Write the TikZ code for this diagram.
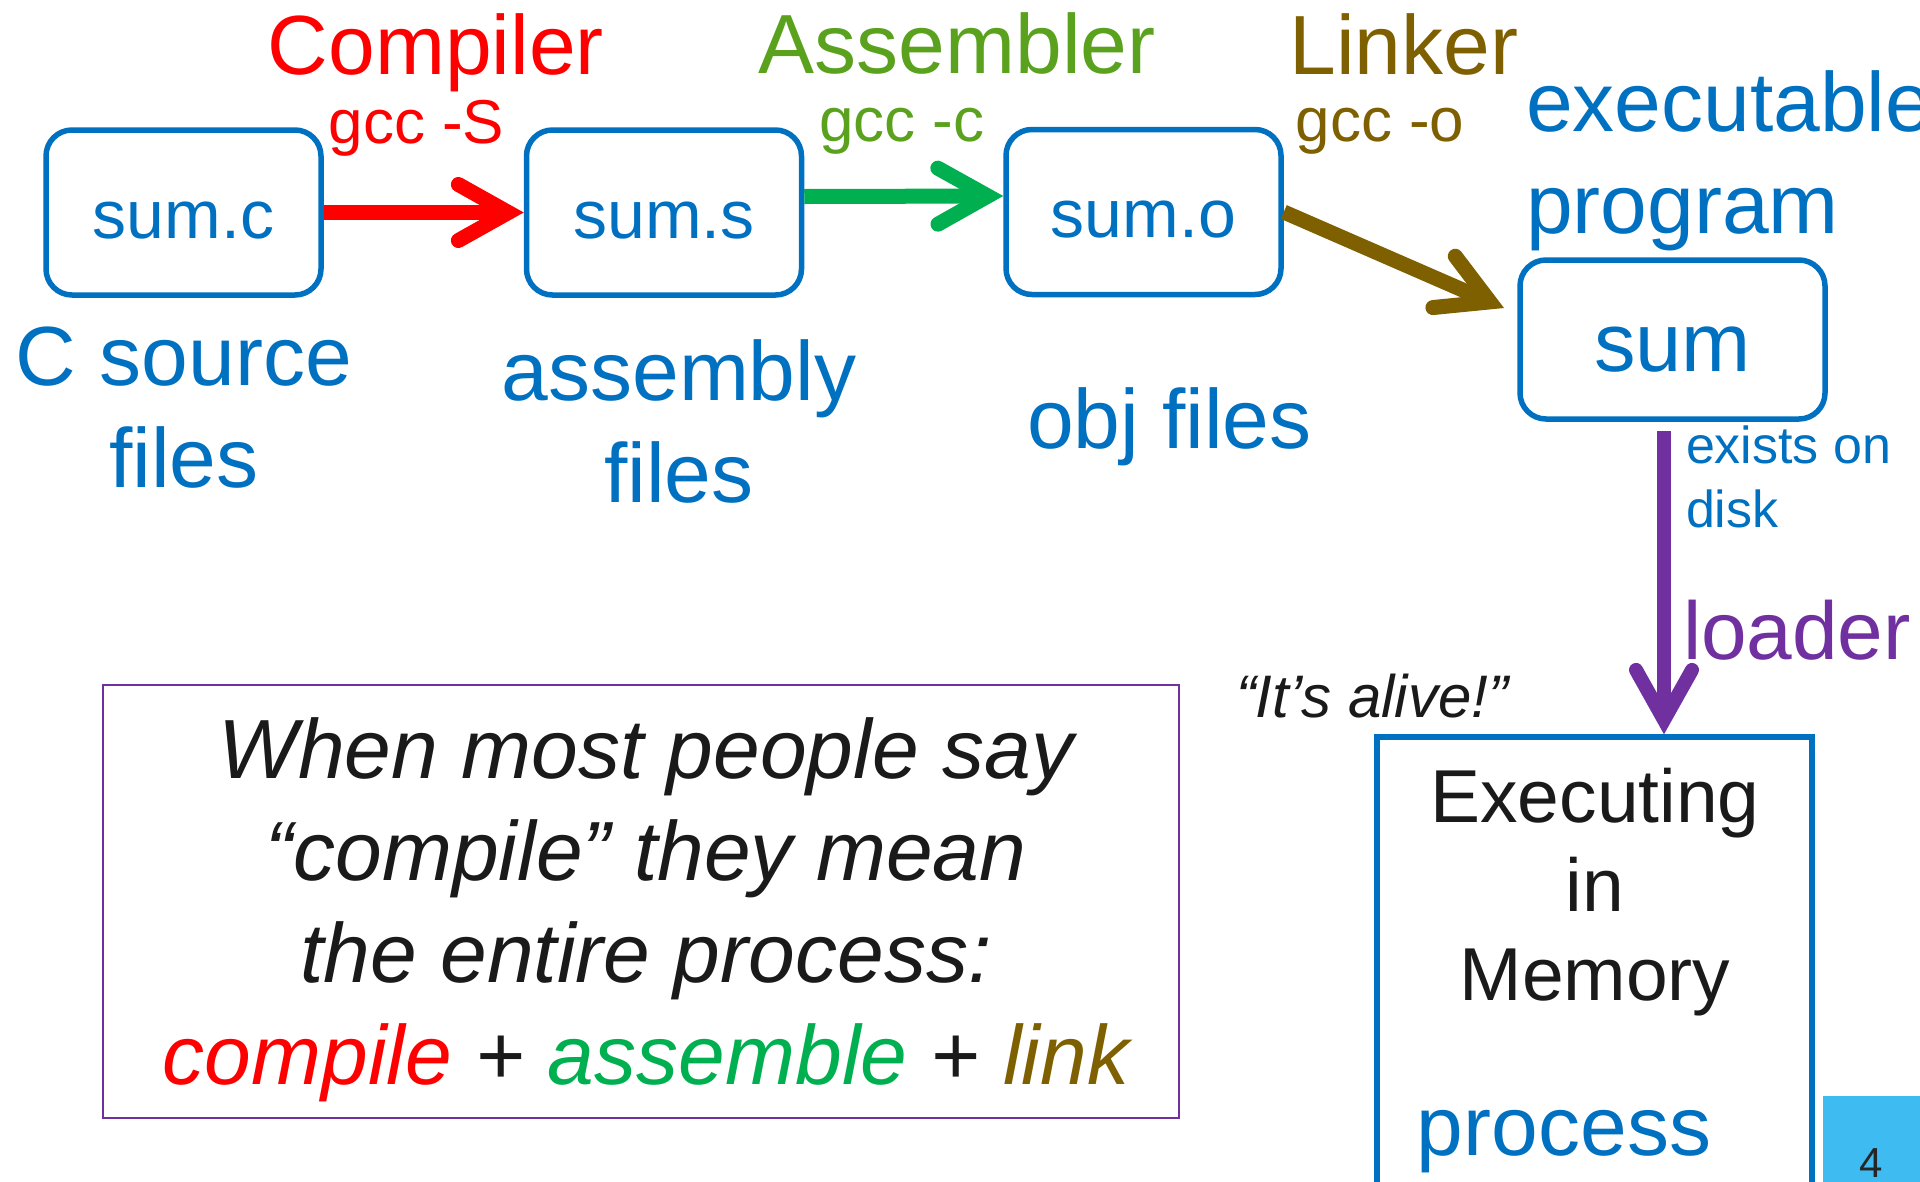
\documentclass[tikz,border=0pt]{standalone}
\usepackage{fontspec}
\setmainfont{Liberation Sans}
\usetikzlibrary{arrows.meta}

\definecolor{cblue}{RGB}{0,112,192}
\definecolor{cred}{RGB}{255,0,0}
\definecolor{cleaf}{RGB}{90,162,30}
\definecolor{cgreen}{RGB}{0,176,80}
\definecolor{cbrown}{RGB}{127,96,0}
\definecolor{cpurple}{RGB}{112,48,160}
\definecolor{cink}{RGB}{26,26,26}
\definecolor{csky}{RGB}{62,188,242}
\definecolor{cnum}{RGB}{38,38,38}

% font size helper and stacked lines (baseline of the first line)
\newcommand\fsz[2]{\fontsize{#1}{#2}\selectfont}
\newcommand\linesc[1]{\begin{tabular}[t]{@{}c@{}}#1\end{tabular}}
\newcommand\linesl[1]{\begin{tabular}[t]{@{}l@{}}#1\end{tabular}}

\begin{document}
\begin{tikzpicture}[x=1pt,y=-1pt,
  txt/.style={inner sep=0pt, outer sep=0pt},
  filebox/.style={draw=cblue, line width=5.5pt, rounded corners=26pt, inner sep=0pt,
    minimum width=275pt, minimum height=165pt, text=cblue, font=\fsz{68}{80},
    text height=51pt, text depth=0pt},
  flow/.style={line width=15pt,
    -{Straight Barb[length=50pt,width=56pt,line cap=round,line join=miter]}},
  tool/.style={txt, anchor=base, font=\fsz{84}{100}},
  flag/.style={txt, anchor=base, font=\fsz{62}{72}},
  note/.style={txt, text=cblue, font=\fsz{84}{102}},
]
\useasboundingbox (0,0) rectangle (1920,1181);
\clip (0,0) rectangle (1920,1181);

% file stages
\node[filebox] (srcbox) at (183.5,212.5) {sum.c};
\node[filebox] (asmbox) at (664,212.5) {sum.s};
\node[filebox] (objbox) at (1143.5,212) {sum.o};
\node[filebox, minimum width=305pt, minimum height=159pt, font=\fsz{83}{96},
  text height=63pt] (exebox) at (1672.5,339.5) {sum};
\node[draw=cblue, line width=5.5pt, minimum width=435pt, minimum height=560pt,
  inner sep=0pt] (membox) at (1594.5,1017) {};

% tools and their flags
\node[tool, text=cred] (compiler) at (436,74) {Compiler};
\node[flag, text=cred] (gccS) at (416.5,143) {gcc -S};
\node[tool, text=cleaf] (assembler) at (957,73) {Assembler};
\node[flag, text=cleaf] (gccc) at (902,141) {gcc -c};
\node[tool, text=cbrown] (linker) at (1404,74) {Linker};
\node[flag, text=cbrown] (gcco) at (1380,141) {gcc -o};

% stage descriptions
\node[note, anchor=base west] (exelbl) at (1526,131) {\linesl{executable\\program}};
\node[note, anchor=base] (srclbl) at (184,385) {\linesc{C source\\files}};
\node[note, anchor=base] (asmlbl) at (679,400) {\linesc{assembly\\files}};
\node[note, anchor=base west] (objlbl) at (1027,448) {obj files};
\node[txt, anchor=base west, text=cblue, font=\fsz{52}{64}] (disklbl) at (1686,463)
  {\linesl{exists on\\disk}};
\node[txt, anchor=base west, text=cpurple, font=\fsz{82}{96}] (loaderlbl) at (1683,659) {loader};
\node[txt, anchor=base west, text=cink, font=\fsz{60}{70}\itshape] (alive) at (1236,717)
  {“It’s alive!”};

% running process
\node[txt, anchor=base, text=cink, font=\fsz{75}{89}] (memlbl) at (1595,822)
  {\linesc{Executing\\in\\Memory}};
\node[txt, anchor=base, text=cblue, font=\fsz{84}{100}] (proclbl) at (1564,1155) {process};

% note box
\node[draw=cpurple, line width=2pt, minimum width=1076pt, minimum height=433pt,
  inner sep=0pt] (quotebox) at (641,901.5) {};
\node[txt, anchor=base, text=cink, font=\fsz{84}{102.3}\itshape] (quote) at (646,778)
  {\linesc{When most people say\\
   “compile” they mean\\
   the entire process:\\
   {\color{cred}compile} + {\color{cgreen}assemble} + {\color{cbrown}link}}};

% slide number
\node[fill=csky, minimum width=100pt, minimum height=90pt, anchor=north west,
  inner sep=0pt] (pagebox) at (1823,1096) {};
\node[txt, anchor=base, text=cnum, font=\fsz{42}{50}] (pagenum) at (1871,1177) {4};

% build pipeline
\coordinate (linkend) at (1504,308);
\coordinate (diskpt) at (1664,431);
\draw[flow, cred] (srcbox.east) -- (asmbox.west);
\draw[flow, cgreen] ([yshift=16pt]asmbox.east) -- ([yshift=16pt]objbox.west);
\draw[flow, cbrown] (objbox.east) -- (linkend);
\draw[flow, cpurple, line width=14pt] (diskpt) -- (membox.north -| diskpt);
\end{tikzpicture}
\end{document}
